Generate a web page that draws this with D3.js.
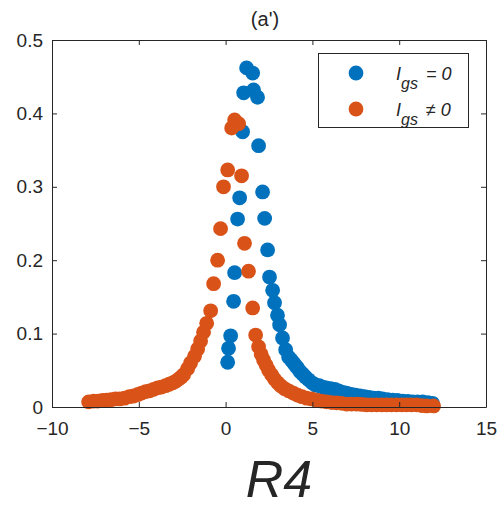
<!DOCTYPE html>
<html>
<head>
<meta charset="utf-8">
<script src="https://cdn.jsdelivr.net/npm/d3@7"></script>
<style>
  body { margin: 0; background: #fff; }
  svg { display: block; font-family: 'Liberation Sans', Arial, sans-serif; }
</style>
</head>
<body>
<svg width="503" height="509"></svg>
<script>
// I_gs = 0 (blue)
let blueX = [0.12, 0.17, 0.29, 0.46, 0.52, 0.69, 0.81, 0.98, 1.04, 1.21, 1.56, 1.61, 1.84, 1.90, 2.13, 2.25, 2.42, 2.53, 2.71, 2.82, 2.99, 3.11, 3.28, 3.46, 3.63, 3.78, 3.92, 4.05, 4.15, 4.30, 4.44, 4.60, 4.78, 4.98, 5.18, 5.40, 5.59, 5.80, 6.05, 6.30, 6.51, 6.75, 6.97, 7.25, 7.49, 7.75, 8.01, 8.27, 8.53, 8.80, 9.04, 9.33, 9.62, 9.90, 10.2, 10.5, 10.77, 11.05, 11.35, 11.65, 11.92]
let blueY = [0.061, 0.080, 0.097, 0.144, 0.183, 0.256, 0.285, 0.375, 0.428, 0.462, 0.455, 0.432, 0.422, 0.356, 0.293, 0.257, 0.214, 0.177, 0.159, 0.142, 0.125, 0.112, 0.094, 0.078, 0.068, 0.064, 0.060, 0.056, 0.053, 0.048, 0.045, 0.041, 0.037, 0.033, 0.030, 0.029, 0.027, 0.026, 0.025, 0.024, 0.022, 0.020, 0.019, 0.017, 0.016, 0.015, 0.014, 0.013, 0.012, 0.012, 0.011, 0.010, 0.0095, 0.009, 0.008, 0.0075, 0.007, 0.007, 0.007, 0.006, 0.005]

// I_gs != 0 (orange)
let orangeX = [-7.89, -7.60, -7.37, -7.10, -6.85, -6.60, -6.34, -6.10, -5.82, -5.55, -5.30, -5.05, -4.84, -4.60, -4.38, -4.15, -3.92, -3.70, -3.46, -3.25, -3.05, -2.88, -2.71, -2.55, -2.42, -2.19, -2.02, -1.79, -1.61, -1.44, -1.27, -1.09, -0.86, -0.69, -0.46, -0.29, -0.12, 0.12, 0.35, 0.52, 0.75, 0.92, 1.09, 1.32, 1.56, 1.73, 1.90, 2.05, 2.19, 2.34, 2.48, 2.65, 2.82, 3.00, 3.17, 3.40, 3.63, 3.90, 4.15, 4.40, 4.67, 4.95, 5.24, 5.52, 5.82, 6.10, 6.39, 6.68, 6.97, 7.25, 7.55, 7.85, 8.12, 8.40, 8.70, 9.00, 9.27, 9.55, 9.85, 10.15, 10.42, 10.70, 11.00, 11.30, 11.58, 11.98]
let orangeY = [0.007, 0.008, 0.008, 0.009, 0.0095, 0.010, 0.011, 0.011, 0.012, 0.014, 0.015, 0.017, 0.019, 0.021, 0.022, 0.024, 0.026, 0.027, 0.029, 0.031, 0.033, 0.035, 0.038, 0.041, 0.044, 0.052, 0.060, 0.069, 0.079, 0.090, 0.102, 0.114, 0.131, 0.168, 0.200, 0.243, 0.300, 0.323, 0.380, 0.391, 0.386, 0.315, 0.223, 0.185, 0.135, 0.098, 0.082, 0.072, 0.064, 0.057, 0.050, 0.044, 0.038, 0.033, 0.029, 0.025, 0.022, 0.019, 0.016, 0.014, 0.012, 0.011, 0.0095, 0.008, 0.007, 0.006, 0.0055, 0.005, 0.004, 0.004, 0.004, 0.0035, 0.003, 0.003, 0.003, 0.003, 0.003, 0.003, 0.003, 0.003, 0.003, 0.003, 0.003, 0.002, 0.0015, 0.0015]

let xTicks = [-10, -5, 0, 5, 10, 15]
let yTicks = [0, 0.1, 0.2, 0.3, 0.4, 0.5]

let margin = { top: 40, bottom: 102, left: 52, right: 17 }
let width = 503
let height = 509
let blue = '#0072BD'
let orange = '#D95319'
let ink = '#262626'
let dotR = 7.4

let xScale = d3.scaleLinear()
  .domain([-10, 15])
  .range([margin.left, width - margin.right])

let yScale = d3.scaleLinear()
  .domain([0, 0.5])
  .range([height - margin.bottom, margin.top])

let svg = d3.select('svg')

let blueData = blueX.map((x, i) => ({ x: x, y: blueY[i] }))
let orangeData = orangeX.map((x, i) => ({ x: x, y: orangeY[i] }))

svg.append('g')
  .selectAll('circle')
  .data(blueData)
  .enter()
  .append('circle')
  .attr('cx', d => xScale(d.x))
  .attr('cy', d => yScale(d.y))
  .attr('r', dotR)
  .attr('fill', blue)

svg.append('g')
  .selectAll('circle')
  .data(orangeData)
  .enter()
  .append('circle')
  .attr('cx', d => xScale(d.x))
  .attr('cy', d => yScale(d.y))
  .attr('r', dotR)
  .attr('fill', orange)

// axes, ticks inside like matlab
let x0 = margin.left, x1 = width - margin.right
let y0 = height - margin.bottom, y1 = margin.top

let xAxis = d3.axisBottom(xScale).tickValues(xTicks).tickSizeInner(-5).tickSizeOuter(0).tickPadding(15)
let yAxis = d3.axisLeft(yScale).tickValues(yTicks).tickSizeInner(-5).tickSizeOuter(0).tickPadding(9)
  .tickFormat(d3.format('~g'))
let xTop = d3.axisTop(xScale).tickValues(xTicks).tickSizeInner(-5).tickSizeOuter(0).tickFormat('')
let yRight = d3.axisRight(yScale).tickValues(yTicks).tickSizeInner(-5).tickSizeOuter(0).tickFormat('')

function style(g) {
  g.selectAll('path').attr('stroke', ink)
  g.selectAll('line').attr('stroke', ink)
  g.selectAll('text').attr('fill', ink).style('font-size', '19px').style('font-family', "'Liberation Sans', Arial, sans-serif")
}

svg.append('g').attr('transform', 'translate(' + [0, y0] + ')').call(xAxis).call(style)
svg.append('g').attr('transform', 'translate(' + [x0, 0] + ')').call(yAxis).call(style)
svg.append('g').attr('transform', 'translate(' + [0, y1] + ')').call(xTop).call(style)
svg.append('g').attr('transform', 'translate(' + [x1, 0] + ')').call(yRight).call(style)

// title
svg.append('text')
  .attr('x', 265)
  .attr('y', 26)
  .attr('text-anchor', 'middle')
  .attr('fill', ink)
  .style('font-size', '20px')
  .text("(a')")

// x label
svg.append('text')
  .attr('x', 279)
  .attr('y', 497)
  .attr('text-anchor', 'middle')
  .attr('fill', ink)
  .style('font-size', '52px')
  .style('font-style', 'italic')
  .text('R4')

// legend
let legend = svg.append('g')
legend.append('rect')
  .attr('x', 318.5).attr('y', 53.5)
  .attr('width', 150).attr('height', 74)
  .attr('fill', '#fff').attr('stroke', ink)

let legendItems = [
  { color: blue, rel: '= 0', y: 73 },
  { color: orange, rel: '\u2260 0', y: 109 }
]
legendItems.forEach(d => {
  legend.append('circle').attr('cx', 356).attr('cy', d.y).attr('r', dotR).attr('fill', d.color)
  let t = legend.append('text')
    .attr('x', 396).attr('y', d.y + 7)
    .attr('fill', ink)
    .style('font-size', '18px')
    .style('font-style', 'italic')
  t.append('tspan').text('I')
  t.append('tspan').attr('dy', 9).style('font-size', '16px').text('gs')
  t.append('tspan').attr('dy', -9).attr('dx', 8).text(d.rel)
})
</script>
</body>
</html>
